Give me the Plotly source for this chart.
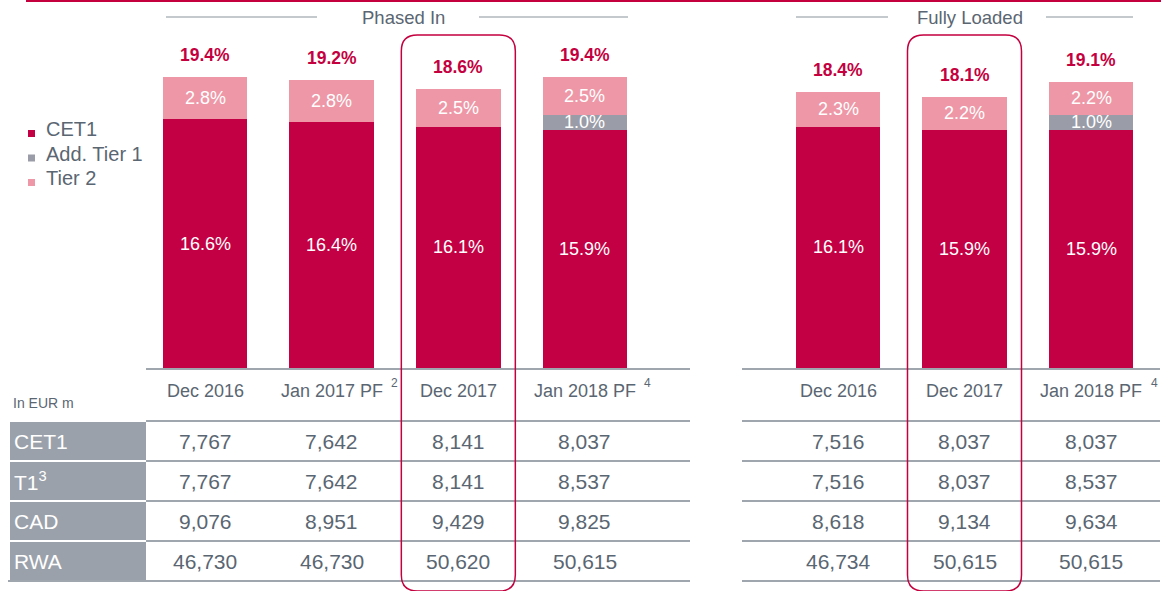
import plotly.graph_objects as go

# ---- data -------------------------------------------------------------
phased_periods = ["Dec 2016", "Jan 2017 PF", "Dec 2017", "Jan 2018 PF"]
phased_notes = ["", "2", "", "4"]
phased_cet1 = [16.6, 16.4, 16.1, 15.9]
phased_at1 = [0.0, 0.0, 0.0, 1.0]
phased_t2 = [2.8, 2.8, 2.5, 2.5]

loaded_periods = ["Dec 2016", "Dec 2017", "Jan 2018 PF"]
loaded_notes = ["", "", "4"]
loaded_cet1 = [16.1, 15.9, 15.9]
loaded_at1 = [0.0, 0.0, 1.0]
loaded_t2 = [2.3, 2.2, 2.2]

row_labels = ["CET1", "T1<sup>3</sup>", "CAD", "RWA"]
phased_cet1_eur = [7767, 7642, 8141, 8037]
phased_t1_eur = [7767, 7642, 8141, 8537]
phased_cad_eur = [9076, 8951, 9429, 9825]
phased_rwa_eur = [46730, 46730, 50620, 50615]
loaded_cet1_eur = [7516, 8037, 8037]
loaded_t1_eur = [7516, 8037, 8537]
loaded_cad_eur = [8618, 9134, 9634]
loaded_rwa_eur = [46734, 50615, 50615]

# ---- styling ------------------------------------------------------------
W, H = 1161, 591
FONT = "Liberation Sans, Arial, sans-serif"
C_CET1 = "#C40044"
C_AT1 = "#9A9CA7"
C_T2 = "#EE97A6"
C_TEXT = "#5A6672"
C_RULE = "#7F8893"
C_CELL = "#9BA1AB"
C_ACCENT = "#C4003F"

BASE_PX = 368          # baseline of the bars (pixels from top)
PX_PER_PCT = 15.0      # vertical scale of the bars
LEFT_DOM = (141.7, 648.3)
RIGHT_DOM = (774.75, 1154.25)
ROW_LINES = [421, 461, 501, 541, 581]


def px(x):
    return x / W


def py(y):
    return 1 - y / H


def col_center(dom, n, i):
    return dom[0] + (i + 0.5) * (dom[1] - dom[0]) / n


def label(**kw):
    kw.setdefault("showarrow", False)
    kw.setdefault("xanchor", "center")
    kw.setdefault("yanchor", "middle")
    return kw


fig = go.Figure()

panels = [
    ("x", "y", phased_periods, phased_cet1, phased_at1, phased_t2),
    ("x2", "y2", loaded_periods, loaded_cet1, loaded_at1, loaded_t2),
]
for xa, ya, cats, cet1, at1, t2 in panels:
    for name, vals, col in [("CET1", cet1, C_CET1), ("Add. Tier 1", at1, C_AT1), ("Tier 2", t2, C_T2)]:
        fig.add_trace(go.Bar(
            x=cats, y=[v if v > 0 else None for v in vals], name=name,
            marker=dict(color=col, line=dict(width=0)),
            xaxis=xa, yaxis=ya, showlegend=False, hoverinfo="skip",
        ))

annotations = []
shapes = []

# segment and total labels
for xa, ya, cats, cet1, at1, t2 in panels:
    for i, c in enumerate(cats):
        base = 0.0
        for v in (cet1[i], at1[i], t2[i]):
            if v > 0:
                annotations.append(label(
                    x=c, y=base + v / 2, xref=xa, yref=ya, text=f"{v:.1f}%",
                    font=dict(family=FONT, size=18, color="white"),
                ))
            base += v
        annotations.append(label(
            x=c, y=base, xref=xa, yref=ya, text=f"<b>{base:.1f}%</b>",
            yshift=22, font=dict(family=FONT, size=17.5, color=C_ACCENT),
        ))

# period headings under the bars
for xa, cats, notes in [("x", phased_periods, phased_notes), ("x2", loaded_periods, loaded_notes)]:
    for c, n in zip(cats, notes):
        annotations.append(label(
            x=c, y=py(391), xref=xa, yref="paper", text=c,
            font=dict(family=FONT, size=18, color=C_TEXT),
        ))
        if n:
            annotations.append(label(
                x=c, y=py(383), xref=xa, yref="paper", text=n, xshift=63,
                font=dict(family=FONT, size=12, color=C_TEXT),
            ))

# table values
phased_rows = [phased_cet1_eur, phased_t1_eur, phased_cad_eur, phased_rwa_eur]
loaded_rows = [loaded_cet1_eur, loaded_t1_eur, loaded_cad_eur, loaded_rwa_eur]
for r in range(4):
    yc = (ROW_LINES[r] + ROW_LINES[r + 1]) / 2
    for xa, cats, rows in [("x", phased_periods, phased_rows), ("x2", loaded_periods, loaded_rows)]:
        for c, v in zip(cats, rows[r]):
            annotations.append(label(
                x=c, y=py(yc), xref=xa, yref="paper", text=f"{v:,}",
                font=dict(family=FONT, size=21, color=C_TEXT),
            ))
    # row label cell
    shapes.append(dict(type="rect", xref="paper", yref="paper",
                       x0=px(10), x1=px(146), y0=py(ROW_LINES[r] + 1), y1=py(ROW_LINES[r + 1] - 1),
                       fillcolor=C_CELL, line=dict(width=0), layer="below"))
    annotations.append(label(
        x=px(12), y=py(yc), xref="paper", yref="paper", text=row_labels[r],
        xanchor="left", font=dict(family=FONT, size=21, color="white"),
    ))

annotations.append(label(
    x=px(11), y=py(403), xref="paper", yref="paper", text="In EUR m",
    xanchor="left", font=dict(family="Liberation Sans Narrow, " + FONT, size=14, color=C_TEXT),
))

# table rules
for x0, x1 in [(146, 690), (742, 1160)]:
    shapes.append(dict(type="line", xref="paper", yref="paper", x0=px(x0), x1=px(x1),
                       y0=py(369), y1=py(369), line=dict(color=C_RULE, width=1.5)))
    for yl in ROW_LINES:
        shapes.append(dict(type="line", xref="paper", yref="paper", x0=px(x0),
                           x1=px(x1), y0=py(yl), y1=py(yl), line=dict(color=C_RULE, width=1.5)))
shapes.append(dict(type="line", xref="paper", yref="paper", x0=px(8), x1=px(146),
                   y0=py(581), y1=py(581), line=dict(color=C_RULE, width=1.5)))

# top accent rule
shapes.append(dict(type="line", xref="paper", yref="paper", x0=px(26), x1=1,
                   y0=py(1), y1=py(1), line=dict(color=C_ACCENT, width=2)))

# section headings with side rules
for title, cx, segs in [
    ("Phased In", 403.5, [(166, 317), (479, 628)]),
    ("Fully Loaded", 969.5, [(796, 888), (1046, 1133)]),
]:
    annotations.append(label(
        x=px(cx), y=py(17), xref="paper", yref="paper", text=title,
        font=dict(family=FONT, size=18.5, color=C_TEXT),
    ))
    for a, b in segs:
        shapes.append(dict(type="line", xref="paper", yref="paper", x0=px(a), x1=px(b),
                           y0=py(17), y1=py(17), line=dict(color="#8A939D", width=1.2)))


# rounded highlight frames around the Dec 2017 columns
def rounded_rect(x0, x1, y0, y1, r):
    pts = [
        ("M", [(x0 + r, y0)]), ("L", [(x1 - r, y0)]), ("Q", [(x1, y0), (x1, y0 + r)]),
        ("L", [(x1, y1 - r)]), ("Q", [(x1, y1), (x1 - r, y1)]), ("L", [(x0 + r, y1)]),
        ("Q", [(x0, y1), (x0, y1 - r)]), ("L", [(x0, y0 + r)]), ("Q", [(x0, y0), (x0 + r, y0)]),
    ]
    s = ""
    for cmd, ps in pts:
        s += cmd + " " + " ".join(f"{px(a):.5f},{py(b):.5f}" for a, b in ps) + " "
    return s + "Z"


for dom, n, idx in [(LEFT_DOM, 4, 2), (RIGHT_DOM, 3, 1)]:
    cx = col_center(dom, n, idx)
    shapes.append(dict(type="path", xref="paper", yref="paper",
                       path=rounded_rect(cx - 57, cx + 57, 35, 591, 16),
                       line=dict(color=C_ACCENT, width=1.5)))

# legend
for i, (name, col) in enumerate([("CET1", C_CET1), ("Add. Tier 1", C_AT1), ("Tier 2", C_T2)]):
    yc = 129 + i * 24.5
    shapes.append(dict(type="rect", xref="paper", yref="paper",
                       x0=px(28), x1=px(35), y0=py(yc + 8), y1=py(yc + 1),
                       fillcolor=col, line=dict(width=0)))
    annotations.append(label(
        x=px(44), y=py(yc), xref="paper", yref="paper", text=name,
        xanchor="left", font=dict(family=FONT, size=20, color=C_TEXT),
    ))

ytop = BASE_PX / PX_PER_PCT
axis_common = dict(showgrid=False, zeroline=False, showticklabels=False, ticks="", showline=False)
fig.update_layout(
    width=W, height=H, margin=dict(l=0, r=0, t=0, b=0),
    paper_bgcolor="white", plot_bgcolor="white",
    barmode="stack", bargap=0.33, showlegend=False,
    xaxis=dict(domain=[px(LEFT_DOM[0]), px(LEFT_DOM[1])], range=[-0.5, 3.5], **axis_common),
    xaxis2=dict(domain=[px(RIGHT_DOM[0]), px(RIGHT_DOM[1])], range=[-0.5, 2.5], anchor="y2",
                **axis_common),
    yaxis=dict(domain=[py(BASE_PX), 1], range=[0, ytop], anchor="x", **axis_common),
    yaxis2=dict(domain=[py(BASE_PX), 1], range=[0, ytop], anchor="x2", **axis_common),
    annotations=annotations, shapes=shapes,
)
fig.write_html("out.html")
